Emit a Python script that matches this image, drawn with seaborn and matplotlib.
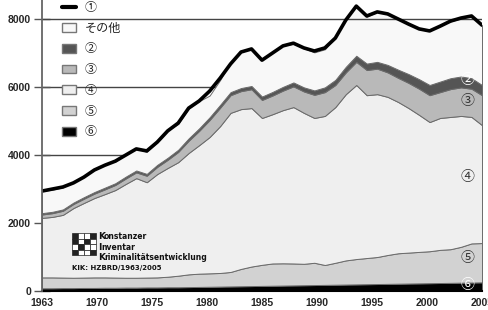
import numpy as np
import pandas as pd
import matplotlib
matplotlib.use("Agg")
import matplotlib.pyplot as plt
from matplotlib.patches import Patch, Rectangle
from matplotlib.lines import Line2D
import seaborn as sns

# years shown on the chart
years = list(range(1963, 2006))

# (1) total line
total = [2940, 3000, 3060, 3180, 3350, 3560, 3700, 3820, 4000, 4180,
         4120, 4380, 4710, 4940, 5380, 5590, 5880, 6260, 6680, 7030,
         7120, 6790, 7000, 7210, 7290, 7150, 7060, 7150, 7440, 7970,
         8380, 8090, 8210, 8150, 8000, 7850, 7710, 7650, 7790, 7940,
         8030, 8090, 7820]

# stacked components, bottom to top
s6 = [80, 80, 85, 85, 90, 90, 95, 95, 100, 100,
      105, 105, 110, 110, 115, 120, 125, 130, 135, 140,
      145, 150, 155, 160, 165, 170, 175, 180, 185, 190,
      195, 200, 205, 210, 215, 220, 225, 230, 235, 240,
      245, 250, 255]
s5 = [320, 320, 310, 305, 305, 310, 305, 300, 290, 290,
      290, 295, 310, 340, 375, 390, 395, 400, 425, 510,
      575, 620, 655, 655, 645, 630, 655, 585, 645, 710,
      745, 770, 795, 850, 895, 910, 925, 940, 975, 990,
      1055, 1150, 1155]
s4 = [1750, 1780, 1845, 2050, 2195, 2335, 2450, 2575, 2760, 2930,
      2805, 3040, 3200, 3340, 3570, 3780, 4010, 4320, 4680, 4700,
      4660, 4320, 4390, 4505, 4600, 4440, 4260, 4385, 4580, 4890,
      5120, 4790, 4790, 4650, 4450, 4250, 4030, 3800, 3880, 3890,
      3850, 3720, 3470]
s3 = [100, 110, 120, 120, 125, 130, 140, 150, 160, 170,
      190, 210, 240, 300, 360, 420, 500, 540, 520, 530,
      555, 530, 550, 575, 610, 630, 680, 700, 650, 640,
      680, 740, 750, 720, 710, 740, 770, 790, 760, 820,
      840, 830, 880]
s2 = [40, 40, 40, 40, 45, 45, 50, 50, 55, 55,
      55, 60, 60, 65, 70, 75, 80, 85, 90, 90,
      95, 100, 105, 110, 115, 120, 130, 140, 150, 165,
      180, 190, 200, 220, 240, 260, 280, 300, 310, 320,
      320, 310, 300]
other = [650, 650, 650, 620, 615, 680, 700, 640, 650, 650,
         650, 670, 800, 760, 880, 800, 640, 730, 890, 1060,
         1090, 1080, 1150, 1210, 1140, 1150, 1120, 1120, 1260, 1410,
         1470, 1380, 1470, 1530, 1500, 1470, 1470, 1590, 1670, 1670,
         1710, 1830, 1760]

tick_labels = ["1963", "1970", "1975", "1980", "1985", "1990", "1995", "2000", "2005"]
y_ticks = [0, 2000, 4000, 6000, 8000]

band_colors = ["#000000", "#d2d2d2", "#efefef", "#b9b9b9", "#555555", "#f8f8f8"]

sns.set_theme(style="white")
plt.rcParams["font.family"] = ["Noto Sans CJK JP", "DejaVu Sans"]

df = pd.DataFrame({"year": years, "total": total})

fig = plt.figure(figsize=(4.89, 3.10), dpi=100)
ax = fig.add_axes([42 / 489, 19 / 310, 440 / 489, 291 / 310])

# grid behind fills; the 8000 line is the plot-area border and stays on top
for v in y_ticks[1:]:
    ax.axhline(v, color="#444444", lw=1.0, zorder=2.5 if v == 8000 else 0)

ax.stackplot(years, s6, s5, s4, s3, s2, other, colors=band_colors,
             edgecolor="#6a6a6a", linewidth=0.7, zorder=1)
sns.lineplot(data=df, x="year", y="total", ax=ax, color="black", lw=2.6,
             zorder=3)

ax.set_xlim(1963, 2005)
ax.set_ylim(0, 8560)
ax.set_xticks(np.linspace(1963, 2005, len(tick_labels)))
ax.set_xticklabels(tick_labels)
ax.set_yticks(y_ticks)
ax.set_xlabel("")
ax.set_ylabel("")
for lab in ax.get_xticklabels() + ax.get_yticklabels():
    lab.set_fontfamily("Liberation Sans")
    lab.set_fontweight("bold")
    lab.set_fontsize(7.5)
ax.tick_params(axis="x", length=0, pad=5)
ax.tick_params(axis="y", direction="inout", length=12, width=1, color="#555555", pad=2, left=True)
for s in ["top", "right"]:
    ax.spines[s].set_visible(False)
ax.spines["left"].set_color("#666666")
ax.spines["left"].set_linewidth(1.3)
ax.spines["bottom"].set_color("black")
ax.spines["bottom"].set_linewidth(1.5)
ax.spines["left"].set_zorder(5)

# legend
handles = [Line2D([0], [0], color="black", lw=3),
           Patch(facecolor=band_colors[5], edgecolor="#777777"),
           Patch(facecolor=band_colors[4], edgecolor="#777777"),
           Patch(facecolor=band_colors[3], edgecolor="#777777"),
           Patch(facecolor=band_colors[2], edgecolor="#777777"),
           Patch(facecolor=band_colors[1], edgecolor="#777777"),
           Patch(facecolor=band_colors[0], edgecolor="#777777")]
labels = ["①", "その他", "②", "③", "④", "⑤", "⑥"]
leg = ax.legend(handles, labels, loc="upper left", bbox_to_anchor=(62 / 489, 1 - 1 / 310),
                bbox_transform=fig.transFigure, frameon=False, fontsize=8.7,
                labelspacing=0.64, handlelength=1.15, handleheight=0.75,
                handletextpad=0.75, borderaxespad=0.0, borderpad=0.0)
leg.set_zorder(6)
for t in leg.get_texts():
    t.set_color("#222222")

# labels on the right side of the bands
side = [("②", 6205, "white"), ("③", 5590, "#333333"), ("④", 3350, "#333333"),
        ("⑤", 970, "#333333"), ("⑥", 175, "white")]
for txt, yv, col in side:
    ax.text(2003.6, yv, txt, ha="center", va="center", fontsize=10, color=col, zorder=6)

# KIK logo
for i in range(4):
    for j in range(4):
        fill = "#222222" if (i + j) % 3 == 0 or (i == 0 and j < 2) else "white"
        fig.patches.append(Rectangle((72 / 489 + i * 6 / 489, 1 - (233 + (j + 1) * 5.6) / 310),
                                     6 / 489, 5.6 / 310, transform=fig.transFigure,
                                     facecolor=fill, edgecolor="#222222", lw=0.5, zorder=6))
words = [("K", "onstanzer", 236.5, 104), ("I", "nventar", 247, 101.5),
         ("K", "riminalitätsentwicklung", 257.5, 104)]
for first, rest, yy, xr in words:
    fig.text(98 / 489, 1 - yy / 310, first, fontsize=6.5, fontweight="bold",
             family="DejaVu Sans", va="center", ha="left", color="#111111")
    fig.text(xr / 489, 1 - yy / 310, rest, fontsize=5.5, fontweight="bold",
             family="DejaVu Sans", va="center", ha="left", color="#111111")
fig.text(72 / 489, 1 - 268 / 310, "KIK: HZBRD/1963/2005", fontsize=5, fontweight="bold",
         family="DejaVu Sans", va="center", ha="left", color="#111111")

fig.savefig("out.png", dpi=100)
